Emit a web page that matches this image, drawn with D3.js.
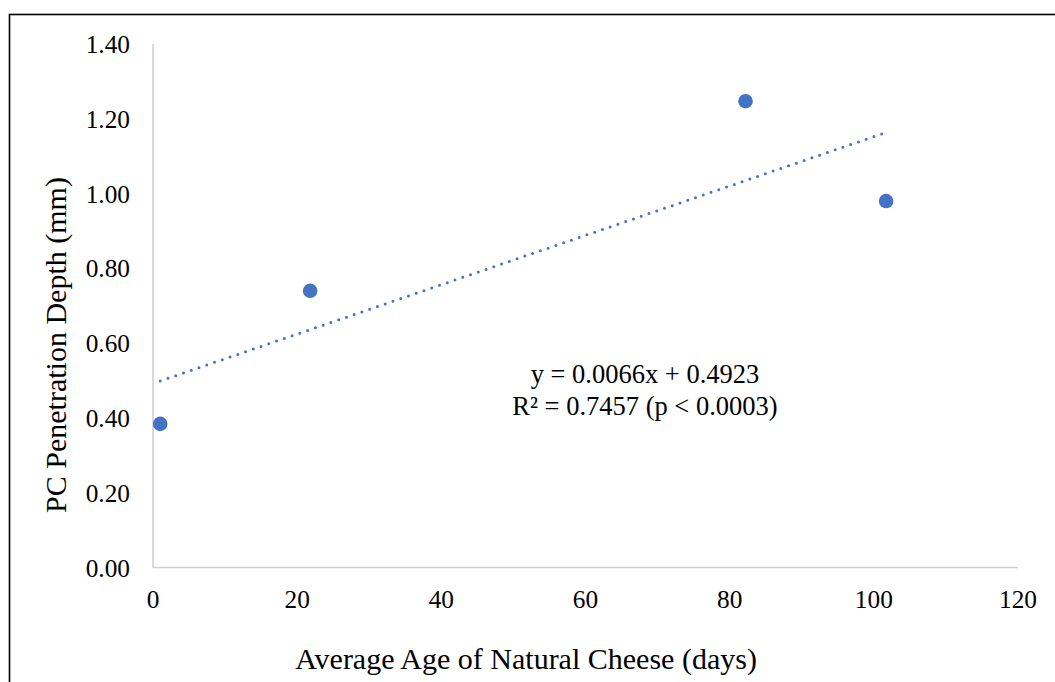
<!DOCTYPE html>
<html>
<head>
<meta charset="utf-8">
<script src="https://cdn.jsdelivr.net/npm/d3@7"></script>
<style>
  html, body { margin: 0; padding: 0; background: #fff; }
  svg { display: block; }
  text { font-family: "Liberation Serif", "Times New Roman", serif; fill: #000; }
</style>
</head>
<body>
<svg id="chart" width="1055" height="682"></svg>
<script>
// Cheese age vs. PC penetration depth
const ageDays = [1, 21.8, 82.2, 101.7];
const depthMm = [0.384, 0.740, 1.247, 0.980];
const xTicks = [0, 20, 40, 60, 80, 100, 120];
const yTicks = [0, 0.2, 0.4, 0.6, 0.8, 1.0, 1.2, 1.4];
const trendSlope = 0.0066;
const trendIntercept = 0.4923;
const equationLines = ["y = 0.0066x + 0.4923", "R\u00B2 = 0.7457 (p < 0.0003)"];

const svg = d3.select("#chart");
const blue = "#4472C4";
const axisGray = "#d0d0d0";
const tickSize = 25.3;
const titleSize = 30;
const labelSize = 26.5;

const x = d3.scaleLinear().domain([0, 120]).range([153, 1018]);
const y = d3.scaleLinear().domain([0, 1.4]).range([567.5, 44]);

// outer chart frame
svg.append("rect")
  .attr("x", 9.5).attr("y", 14.5)
  .attr("width", 1100).attr("height", 700)
  .attr("fill", "none").attr("stroke", "#000").attr("stroke-width", 1.6);

// axis lines
svg.append("line")
  .attr("x1", x(0)).attr("x2", x(0))
  .attr("y1", y(1.4)).attr("y2", y(0))
  .attr("stroke", axisGray).attr("stroke-width", 1.6);
svg.append("line")
  .attr("x1", x(0)).attr("x2", x(120))
  .attr("y1", y(0)).attr("y2", y(0))
  .attr("stroke", axisGray).attr("stroke-width", 1.6);

// tick labels
svg.append("g").selectAll("text").data(yTicks).join("text")
  .attr("x", 130).attr("y", d => y(d))
  .attr("text-anchor", "end").attr("dominant-baseline", "central")
  .attr("font-size", tickSize)
  .text(d => d3.format(".2f")(d));

svg.append("g").selectAll("text").data(xTicks).join("text")
  .attr("x", d => x(d)).attr("y", 608)
  .attr("text-anchor", "middle")
  .attr("font-size", tickSize)
  .text(d => d);

// axis titles
svg.append("text")
  .attr("x", 526).attr("y", 669)
  .attr("text-anchor", "middle")
  .attr("font-size", titleSize)
  .text("Average Age of Natural Cheese (days)");

svg.append("text")
  .attr("transform", "translate(66,345) rotate(-90)")
  .attr("text-anchor", "middle")
  .attr("font-size", titleSize)
  .text("PC Penetration Depth (mm)");

// linear trendline (dotted) spanning the data range
const xMin = d3.min(ageDays), xMax = d3.max(ageDays);
svg.append("line")
  .attr("x1", x(xMin)).attr("y1", y(trendIntercept + trendSlope * xMin))
  .attr("x2", x(xMax)).attr("y2", y(trendIntercept + trendSlope * xMax))
  .attr("stroke", blue).attr("stroke-width", 3)
  .attr("stroke-linecap", "round")
  .attr("stroke-dasharray", "0 8.2");

// data points
svg.append("g").selectAll("circle").data(ageDays).join("circle")
  .attr("cx", d => x(d))
  .attr("cy", (d, i) => y(depthMm[i]))
  .attr("r", 7.3)
  .attr("fill", blue);

// trendline equation
svg.append("g").selectAll("text").data(equationLines).join("text")
  .attr("x", 645).attr("y", (d, i) => 383 + i * 32)
  .attr("text-anchor", "middle")
  .attr("font-size", labelSize)
  .text(d => d);
</script>
</body>
</html>
